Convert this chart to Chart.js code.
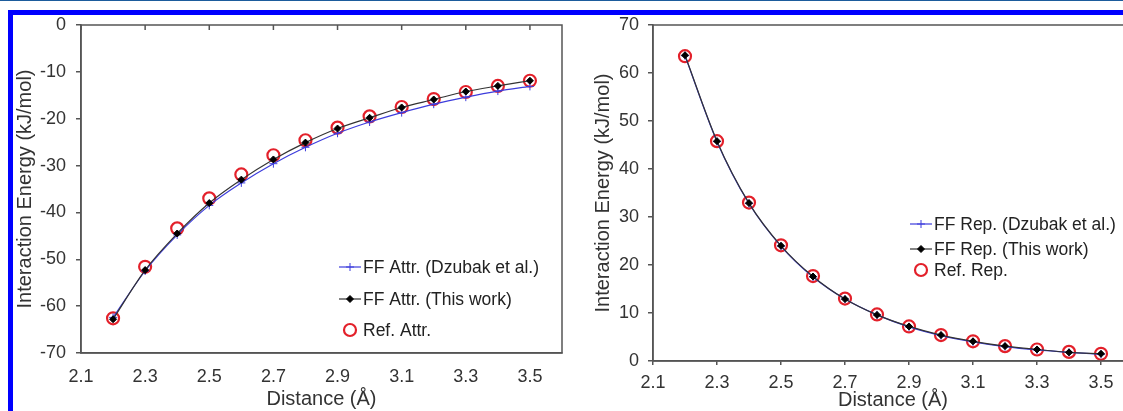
<!DOCTYPE html>
<html>
<head>
<meta charset="utf-8">
<title>Interaction energy vs distance</title>
<script src="https://cdn.jsdelivr.net/npm/chart.js@4.4.1/dist/chart.umd.min.js"></script>
<style>
    html, body { margin: 0; padding: 0; background: #fff; }
    body { width: 1123px; height: 411px; position: relative; overflow: hidden; }
    .topline { position: absolute; left: 0; top: 0; width: 1123px; height: 1px; background: #1d5c9c; }
    .topbar { position: absolute; left: 8px; top: 10px; width: 1115px; height: 5px; background: #0000ff; }
    .leftbar { position: absolute; left: 8px; top: 10px; width: 5px; height: 401px; background: #0000ff; }
    #leftBox { position: absolute; left: 0; top: 0; width: 585px; height: 411px; }
    #rightBox { position: absolute; left: 585px; top: 0; width: 600px; height: 411px; }
</style>
</head>
<body>
<div class="topline"></div>
<div class="topbar"></div>
<div class="leftbar"></div>
<div id="leftBox"><canvas id="attrChart"></canvas></div>
<div id="rightBox"><canvas id="repChart"></canvas></div>
<script>
// Data
const distance = [2.2, 2.3, 2.4, 2.5, 2.6, 2.7, 2.8, 2.9, 3.0, 3.1, 3.2, 3.3, 3.4, 3.5];
const xTickValues = [2.1, 2.3, 2.5, 2.7, 2.9, 3.1, 3.3, 3.5];

// Attraction (left panel)
const attrDzubak   = [-62.4, -52.5, -44.8, -38.5, -33.7, -29.6, -26.1, -23.1, -20.7, -18.7, -16.9, -15.4, -14.1, -13.1];
const attrThisWork = [-62.8, -52.3, -44.5, -38.0, -33.0, -28.7, -25.1, -22.1, -19.8, -17.6, -15.9, -14.2, -13.0, -11.9];
const attrRef      = [-62.6, -51.6, -43.4, -37.0, -31.9, -27.8, -24.6, -21.9, -19.5, -17.5, -15.8, -14.3, -13.0, -11.9];

// Repulsion (right panel)
const repDzubak    = [63.6, 45.7, 32.8, 23.9, 17.5, 12.9, 9.6, 7.1, 5.3, 4.0, 3.0, 2.3, 1.8, 1.4];
const repThisWork  = [63.7, 45.8, 32.9, 24.0, 17.6, 12.9, 9.6, 7.2, 5.4, 4.1, 3.1, 2.4, 1.8, 1.5];
const repRef       = [63.5, 45.8, 33.0, 24.1, 17.7, 13.0, 9.7, 7.2, 5.4, 4.1, 3.1, 2.4, 1.9, 1.5];

const FONT = '"Liberation Sans", Arial, Helvetica, sans-serif';
const AXIS_COLOR = '#555';
const TEXT_COLOR = '#333';

Chart.defaults.font.family = FONT;
Chart.defaults.color = TEXT_COLOR;

function toPoints(values) {
    return distance.map((d, i) => ({ x: d, y: values[i] }));
}

// Box around the plot area, plus the small inward ticks on top
const framePlugin = {
    id: 'frame',
    afterDraw(chart, args, opts) {
        const { ctx, chartArea: a, scales } = chart;
        ctx.save();
        ctx.strokeStyle = AXIS_COLOR;
        ctx.lineWidth = 1.5;
        ctx.strokeRect(a.left, a.top, a.right - a.left, a.bottom - a.top);
        if (opts.topTicks) {
            ctx.beginPath();
            xTickValues.forEach(v => {
                const px = scales.x.getPixelForValue(v);
                ctx.moveTo(px, a.top);
                ctx.lineTo(px, a.top + 5);
            });
            ctx.stroke();
        }
        ctx.restore();
    }
};

// Legend drawn inside the plot box
const boxLegend = {
    id: 'boxLegend',
    afterDraw(chart, args, opts) {
        const { ctx, chartArea: a } = chart;
        const x0 = a.left + opts.dx;
        ctx.save();
        ctx.font = '17.5px ' + FONT;
        ctx.textBaseline = 'middle';
        chart.data.datasets.forEach((ds, i) => {
            const y = a.top + opts.rows[i];
            if (ds.showLine) {
                ctx.strokeStyle = ds.borderColor;
                ctx.lineWidth = ds.borderWidth;
                ctx.beginPath();
                ctx.moveTo(x0, y);
                ctx.lineTo(x0 + 22, y);
                ctx.stroke();
            }
            ctx.fillStyle = ds.pointBackgroundColor;
            ctx.strokeStyle = ds.pointBorderColor;
            ctx.lineWidth = ds.pointBorderWidth;
            Chart.helpers.drawPoint(ctx, {
                pointStyle: ds.pointStyle,
                radius: ds.pointRadius,
                rotation: 0,
                borderWidth: ds.pointBorderWidth
            }, x0 + 11, y);
            ctx.fillStyle = '#222';
            ctx.fillText(ds.label, x0 + 24, y + 1);
        });
        ctx.restore();
    }
};

function makeDatasets(names, dz, tw, ref) {
    return [{
        label: names[0],
        data: toPoints(dz),
        showLine: true,
        borderColor: '#3c3cdc',
        borderWidth: 1.2,
        cubicInterpolationMode: 'monotone',
        pointStyle: 'cross',
        pointRadius: 4,
        pointBorderColor: '#3c3cdc',
        pointBackgroundColor: '#3c3cdc',
        pointBorderWidth: 1,
        order: 2
    }, {
        label: names[1],
        data: toPoints(tw),
        showLine: true,
        borderColor: '#333',
        borderWidth: 1.2,
        cubicInterpolationMode: 'monotone',
        pointStyle: 'rectRot',
        pointRadius: 3.5,
        pointBorderColor: '#000',
        pointBackgroundColor: '#000',
        pointBorderWidth: 1,
        order: 1
    }, {
        label: names[2],
        data: toPoints(ref),
        showLine: false,
        pointStyle: 'circle',
        pointRadius: 6,
        pointBorderColor: '#e3202a',
        pointBackgroundColor: 'rgba(0,0,0,0)',
        pointBorderWidth: 2.2,
        order: 3
    }];
}

function makeOptions(cfg) {
    return {
        responsive: true,
        maintainAspectRatio: false,
        animation: false,
        layout: { padding: { top: 25, right: cfg.padRight, left: 0, bottom: 0 } },
        plugins: {
            legend: { display: false },
            tooltip: { enabled: false },
            frame: { topTicks: cfg.topTicks },
            boxLegend: { dx: cfg.legendDx, rows: cfg.legendRows }
        },
        scales: {
            x: {
                type: 'linear',
                min: 2.1,
                max: 3.6,
                afterBuildTicks: s => { s.ticks = xTickValues.map(v => ({ value: v })); },
                afterFit: s => { s.height = cfg.xHeight; },
                ticks: {
                    color: TEXT_COLOR,
                    font: { size: 18 },
                    padding: cfg.xPad,
                    callback: v => v.toFixed(1)
                },
                grid: {
                    drawOnChartArea: false,
                    drawTicks: cfg.bottomTicks,
                    tickLength: 4,
                    color: AXIS_COLOR,
                    lineWidth: 1.5
                },
                border: { color: AXIS_COLOR, width: 1.5 },
                title: {
                    display: true,
                    text: 'Distance (Å)',
                    color: TEXT_COLOR,
                    font: { size: 20, lineHeight: 1.1 },
                    padding: { top: 0, bottom: cfg.xTitlePad }
                }
            },
            y: {
                min: cfg.yMin,
                max: cfg.yMax,
                afterFit: s => { s.width = cfg.yWidth; },
                ticks: {
                    stepSize: 10,
                    color: TEXT_COLOR,
                    font: { size: 18 },
                    padding: cfg.yPad
                },
                grid: {
                    drawOnChartArea: false,
                    drawTicks: true,
                    tickLength: 5,
                    color: AXIS_COLOR,
                    lineWidth: 1.5
                },
                border: { color: AXIS_COLOR, width: 1.5 },
                title: {
                    display: true,
                    text: 'Interaction Energy (kJ/mol)',
                    color: TEXT_COLOR,
                    font: { size: 20, lineHeight: 1.1 },
                    padding: { top: cfg.yTitlePad, bottom: 0 }
                }
            }
        }
    };
}

const attrChart = new Chart(document.getElementById('attrChart'), {
    type: 'scatter',
    data: {
        datasets: makeDatasets(
            ['FF Attr. (Dzubak et al.)', 'FF Attr. (This work)', 'Ref. Attr.'],
            attrDzubak, attrThisWork, attrRef)
    },
    options: makeOptions({
        padRight: 23, yWidth: 81, xHeight: 58,
        yMin: -70, yMax: 0,
        xPad: 13, yPad: 10, xTitlePad: 1, yTitlePad: 14,
        topTicks: true, bottomTicks: false,
        legendDx: 258, legendRows: [242, 274, 305]
    }),
    plugins: [framePlugin, boxLegend]
});

const repChart = new Chart(document.getElementById('repChart'), {
    type: 'scatter',
    data: {
        datasets: makeDatasets(
            ['FF Rep. (Dzubak et al.)', 'FF Rep. (This work)', 'Ref. Rep.'],
            repDzubak, repThisWork, repRef)
    },
    options: makeOptions({
        padRight: 52, yWidth: 68, xHeight: 50,
        yMin: 0, yMax: 70,
        xPad: 7, yPad: 9, xTitlePad: 0, yTitlePad: 7,
        topTicks: false, bottomTicks: true,
        legendDx: 257, legendRows: [199, 224, 245]
    }),
    plugins: [framePlugin, boxLegend]
});
</script>
</body>
</html>
